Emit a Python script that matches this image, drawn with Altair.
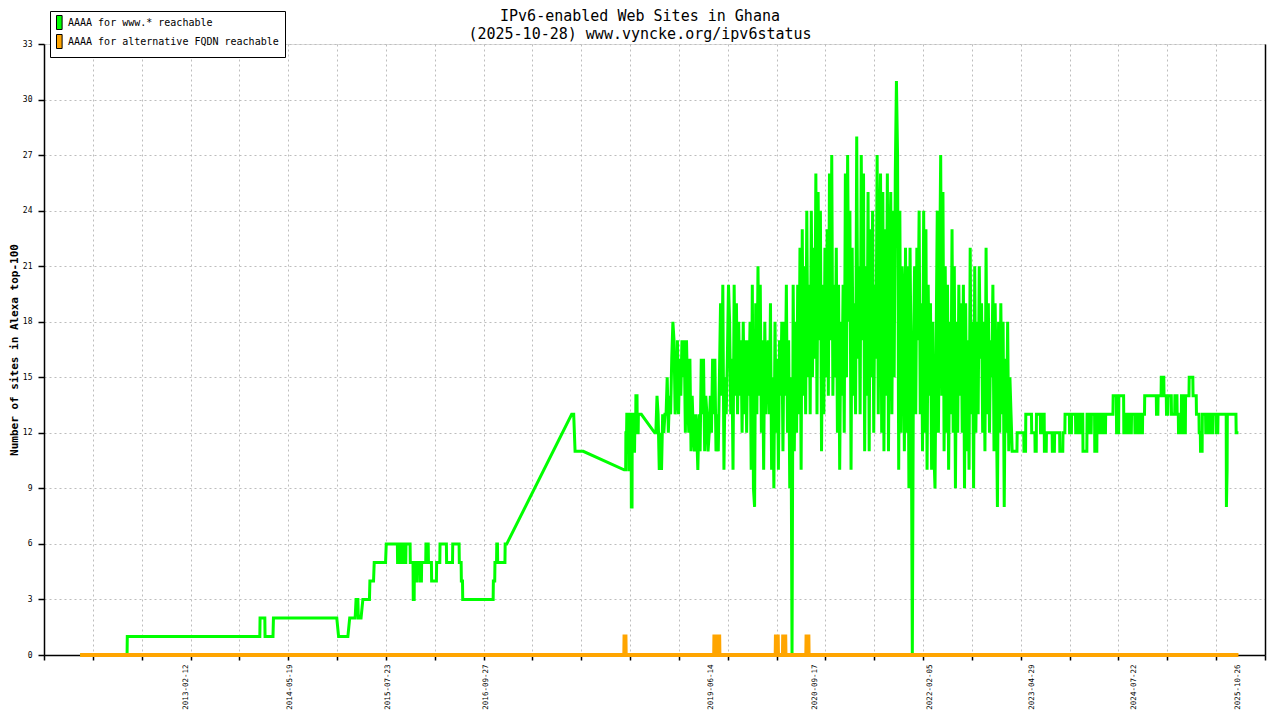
import altair as alt
import pandas as pd

FONT = "DejaVu Sans Mono"
GREEN_NAME = "AAAA for www.* reachable"
ORANGE_NAME = "AAAA for alternative FQDN reachable"
GREEN = "#00FF00"
ORANGE = "#FFA500"

title_lines = ["IPv6-enabled Web Sites in Ghana", "(2025-10-28) www.vyncke.org/ipv6status"]
y_title = "Number of sites in Alexa top-100"

# green series, early part (date, sites)
green_early_points = [
    ["2011-11-07", 0], ["2012-06-01", 0], ["2012-06-02", 1], ["2014-01-07", 1], ["2014-01-08", 2],
    ["2014-01-29", 2], ["2014-01-30", 1], ["2014-03-06", 1], ["2014-03-08", 2], ["2014-12-12", 2],
    ["2014-12-20", 1], ["2015-01-30", 1], ["2015-02-07", 2], ["2015-03-03", 2], ["2015-03-07", 3],
    ["2015-03-15", 3], ["2015-03-17", 2], ["2015-03-29", 2], ["2015-04-06", 3], ["2015-05-05", 3],
    ["2015-05-07", 4], ["2015-05-23", 4], ["2015-05-26", 5], ["2015-07-15", 5], ["2015-07-18", 6],
    ["2015-09-05", 6], ["2015-09-06", 5], ["2015-09-10", 5], ["2015-09-11", 6], ["2015-09-14", 6],
    ["2015-09-15", 5], ["2015-09-22", 5], ["2015-09-23", 6], ["2015-09-26", 6], ["2015-09-27", 5],
    ["2015-10-04", 5], ["2015-10-05", 6], ["2015-10-07", 6], ["2015-10-08", 5], ["2015-10-12", 5],
    ["2015-10-13", 6], ["2015-10-31", 6], ["2015-11-01", 5], ["2015-11-13", 5], ["2015-11-14", 3],
    ["2015-11-18", 3], ["2015-11-19", 5], ["2015-11-23", 5], ["2015-11-24", 4], ["2015-12-01", 4],
    ["2015-12-02", 5], ["2015-12-14", 5], ["2015-12-15", 4], ["2015-12-20", 4], ["2015-12-21", 5],
    ["2016-01-08", 5], ["2016-01-09", 6], ["2016-01-19", 6], ["2016-01-20", 5], ["2016-02-02", 5],
    ["2016-02-03", 4], ["2016-02-24", 4], ["2016-02-25", 5], ["2016-03-10", 5], ["2016-03-11", 6],
    ["2016-04-08", 6], ["2016-04-09", 5], ["2016-05-05", 5], ["2016-05-06", 6], ["2016-06-03", 6],
    ["2016-06-04", 5], ["2016-06-12", 5], ["2016-06-13", 4], ["2016-06-18", 4], ["2016-06-19", 3],
    ["2016-10-31", 3], ["2016-11-01", 4], ["2016-11-07", 4], ["2016-11-08", 5], ["2016-11-15", 5],
    ["2016-11-16", 6], ["2016-11-19", 6], ["2016-11-20", 5], ["2016-12-22", 5], ["2016-12-23", 6],
    ["2016-12-30", 6], ["2017-10-12", 13], ["2017-10-21", 13], ["2017-10-24", 12], ["2017-10-27", 11],
    ["2017-12-02", 11], ["2018-05-31", 10], ["2018-06-07", 10], ["2018-06-08", 12], ["2018-06-11", 12],
    ["2018-06-12", 13], ["2018-06-20", 13], ["2018-06-21", 10], ["2018-06-24", 10], ["2018-06-25", 13],
    ["2018-07-01", 13], ["2018-07-02", 8], ["2018-07-05", 8], ["2018-07-06", 13], ["2018-07-12", 13],
    ["2018-07-13", 11], ["2018-07-16", 11], ["2018-07-17", 12], ["2018-07-21", 12], ["2018-07-22", 14],
    ["2018-07-27", 14], ["2018-07-28", 12], ["2018-08-01", 12], ["2018-08-02", 13], ["2018-08-15", 13],
    ["2018-10-13", 12],
]

# green series, noisy middle part: one reading every 5 days from this date
green_noisy_start = "2018-10-18"
green_noisy_step_days = 5
green_noisy_values = [
    12, 14, 13, 10, 12, 10, 13, 12, 13,
    13, 15, 12, 14, 13, 16, 18, 17, 13,
    14, 17, 13, 16, 14, 17, 15, 17, 12,
    17, 14, 12, 16, 11, 14, 12, 11, 13,
    12, 10, 13, 11, 16, 13, 16, 11, 14,
    13, 11, 12, 14, 12, 16, 13, 16, 11,
    13, 11, 15, 19, 14, 20, 10, 15, 13,
    16, 20, 18, 13, 16, 10, 20, 14, 19,
    13, 18, 14, 17, 12, 18, 13, 17, 12,
    17, 14, 18, 10, 20, 9, 8, 19, 13,
    21, 14, 20, 12, 17, 10, 18, 13, 16,
    17, 13, 19, 10, 15, 9, 18, 12, 16,
    10, 17, 14, 18, 11, 18, 14, 20, 12,
    17, 9, 15, 0, 20, 11, 18, 12, 20,
    13, 22, 10, 23, 14, 21, 13, 24, 15,
    20, 13, 24, 15, 22, 16, 26, 13, 25,
    17, 24, 11, 20, 13, 22, 15, 23, 14,
    26, 17, 27, 14, 20, 15, 22, 12, 20,
    10, 18, 14, 20, 12, 26, 15, 27, 18,
    24, 10, 22, 14, 19, 13, 28, 16, 21,
    13, 27, 17, 26, 11, 21, 14, 25, 11,
    23, 15, 24, 12, 20, 16, 27, 13, 22,
    26, 12, 25, 11, 23, 14, 26, 11, 21,
    25, 13, 24, 15, 26, 31, 27, 10, 24,
    12, 21, 19, 11, 22, 12, 21, 9, 22,
    15, 0, 16, 21, 13, 22, 17, 24, 13,
    19, 11, 24, 12, 23, 10, 20, 14, 19,
    10, 18, 11, 9, 17, 24, 12, 20, 27,
    14, 25, 11, 21, 12, 20, 10, 18, 13,
    23, 12, 21, 9, 18, 12, 20, 14, 19,
    12, 20, 9, 19, 11, 17, 10, 22, 13,
    18, 9, 21, 12, 18, 13, 21, 16, 19,
    12, 18, 11, 22, 13, 19, 12, 17, 15,
    20, 11, 19, 14, 8, 18, 12, 19, 13,
    18, 8, 16, 12, 18, 11, 15, 13, 11,
]

# green series, late part
green_late_points = [
    ["2023-02-08", 11], ["2023-02-25", 11], ["2023-02-26", 12], ["2023-03-27", 12], ["2023-03-28", 11],
    ["2023-04-04", 11], ["2023-04-05", 13], ["2023-04-30", 13], ["2023-05-01", 12], ["2023-05-15", 12],
    ["2023-05-16", 11], ["2023-05-21", 11], ["2023-05-22", 13], ["2023-06-08", 13], ["2023-06-09", 12],
    ["2023-06-17", 12], ["2023-06-18", 13], ["2023-06-25", 13], ["2023-06-26", 11], ["2023-07-04", 11],
    ["2023-07-05", 12], ["2023-07-30", 12], ["2023-07-31", 11], ["2023-08-09", 11], ["2023-08-10", 12],
    ["2023-09-01", 12], ["2023-09-02", 11], ["2023-09-15", 11], ["2023-09-16", 12], ["2023-09-24", 12],
    ["2023-09-25", 13], ["2023-10-14", 13], ["2023-10-15", 12], ["2023-10-23", 12], ["2023-10-24", 13],
    ["2023-11-10", 13], ["2023-11-11", 12], ["2023-11-17", 12], ["2023-11-18", 13], ["2023-11-27", 13],
    ["2023-11-28", 12], ["2023-12-05", 12], ["2023-12-06", 13], ["2023-12-12", 13], ["2023-12-13", 11],
    ["2023-12-30", 11], ["2023-12-31", 13], ["2024-01-11", 13], ["2024-01-12", 12], ["2024-01-18", 12],
    ["2024-01-19", 13], ["2024-02-02", 13], ["2024-02-03", 11], ["2024-02-12", 11], ["2024-02-13", 13],
    ["2024-02-24", 13], ["2024-02-25", 12], ["2024-03-04", 12], ["2024-03-05", 13], ["2024-03-13", 13],
    ["2024-03-14", 12], ["2024-03-21", 12], ["2024-03-22", 13], ["2024-04-23", 13], ["2024-04-24", 14],
    ["2024-05-08", 14], ["2024-05-09", 12], ["2024-05-18", 12], ["2024-05-19", 14], ["2024-06-09", 14],
    ["2024-06-10", 12], ["2024-06-21", 12], ["2024-06-22", 13], ["2024-07-03", 13], ["2024-07-04", 12],
    ["2024-07-13", 12], ["2024-07-14", 13], ["2024-07-28", 13], ["2024-07-29", 12], ["2024-08-07", 12],
    ["2024-08-08", 13], ["2024-08-19", 13], ["2024-08-20", 12], ["2024-08-31", 12], ["2024-09-01", 13],
    ["2024-09-09", 13], ["2024-09-10", 14], ["2024-10-31", 14], ["2024-11-01", 13], ["2024-11-07", 13],
    ["2024-11-08", 14], ["2024-11-21", 14], ["2024-11-22", 15], ["2024-12-03", 15], ["2024-12-04", 14],
    ["2024-12-14", 14], ["2024-12-15", 13], ["2024-12-21", 13], ["2024-12-22", 14], ["2025-01-05", 14],
    ["2025-01-06", 13], ["2025-01-20", 13], ["2025-01-21", 14], ["2025-01-30", 14], ["2025-01-31", 13],
    ["2025-02-05", 13], ["2025-02-06", 12], ["2025-02-18", 12], ["2025-02-19", 14], ["2025-02-25", 14],
    ["2025-02-26", 12], ["2025-03-08", 12], ["2025-03-09", 14], ["2025-03-24", 14], ["2025-03-25", 15],
    ["2025-04-10", 15], ["2025-04-11", 14], ["2025-04-25", 14], ["2025-04-26", 13], ["2025-05-07", 13],
    ["2025-05-08", 12], ["2025-05-13", 12], ["2025-05-14", 11], ["2025-05-21", 11], ["2025-05-22", 13],
    ["2025-06-05", 13], ["2025-06-06", 12], ["2025-06-15", 12], ["2025-06-16", 13], ["2025-06-26", 13],
    ["2025-06-27", 12], ["2025-07-07", 12], ["2025-07-08", 13], ["2025-07-22", 13], ["2025-07-23", 12],
    ["2025-07-29", 12], ["2025-07-30", 13], ["2025-09-04", 13], ["2025-09-05", 8], ["2025-09-08", 10],
    ["2025-09-09", 13], ["2025-10-17", 13], ["2025-10-18", 12], ["2025-10-28", 12],
]

# orange series
orange_points = [
    ["2011-11-07", 0], ["2018-06-01", 0], ["2018-06-02", 1], ["2018-06-06", 1], ["2018-06-07", 0],
    ["2019-07-02", 0], ["2019-07-03", 1], ["2019-07-10", 1], ["2019-07-11", 0], ["2019-07-13", 0],
    ["2019-07-14", 1], ["2019-07-24", 1], ["2019-07-25", 0], ["2020-03-29", 0], ["2020-03-30", 1],
    ["2020-04-07", 1], ["2020-04-08", 0], ["2020-04-30", 0], ["2020-05-01", 1], ["2020-05-10", 1],
    ["2020-05-11", 0], ["2020-08-11", 0], ["2020-08-12", 1], ["2020-08-20", 1], ["2020-08-21", 0],
    ["2025-10-28", 0],
]

x_label_dates = ["2013-02-12", "2014-05-19", "2015-07-23", "2016-09-27", "2019-06-14",
                 "2020-09-17", "2022-02-05", "2023-04-29", "2024-07-22", "2025-10-26"]
x_domain_dates = ["2011-06-01", "2026-02-22"]
y_ticks = [0, 3, 6, 9, 12, 15, 18, 21, 24, 27, 30, 33]

# ---- build tables
noisy_dates = pd.date_range(green_noisy_start, periods=len(green_noisy_values),
                            freq=f"{green_noisy_step_days}D").strftime("%Y-%m-%d").tolist()
green_rows = ([{"date": d, "value": v} for d, v in green_early_points]
              + [{"date": d, "value": v} for d, v in zip(noisy_dates, green_noisy_values)]
              + [{"date": d, "value": v} for d, v in green_late_points])
df_green = pd.DataFrame(green_rows)
df_orange = pd.DataFrame([{"date": d, "value": v} for d, v in orange_points])
df_legend = pd.DataFrame({"date": ["2010-01-01", "2010-01-01"], "value": [0, 0],
                          "series": [GREEN_NAME, ORANGE_NAME]})


def ms(s):
    return int(pd.Timestamp(s, tz="UTC").value // 10**6)


x_domain = [ms(d) for d in x_domain_dates]
n_intervals = 25
tick_values = [x_domain[0] + (x_domain[1] - x_domain[0]) * k / n_intervals for k in range(n_intervals + 1)]
label_values = [ms(d) for d in x_label_dates]

W, H = 1221, 611
xscale = alt.Scale(type="utc", domain=x_domain, nice=False)
yscale = alt.Scale(domain=[0, 33], nice=False, zero=True)
GRID = "#bdbdbd"
# tall narrow swatch sitting at the left of its legend cell
SYMBOL = "M-1,-1.4H0.12V1.4H-1Z"

green = alt.Chart(df_green).mark_line(color=GREEN, strokeWidth=3).encode(
    x=alt.X("date:T", scale=xscale, axis=alt.Axis(
        orient="bottom", values=tick_values, labels=False, ticks=True, tickSize=5,
        tickWidth=1.5, tickColor="black", grid=True, gridColor=GRID, gridDash=[2, 3],
        gridWidth=1, domain=True, domainColor="black", domainWidth=1.5, title=None)),
    y=alt.Y("value:Q", scale=yscale, axis=alt.Axis(
        orient="left", values=y_ticks, grid=True, gridColor=GRID, gridDash=[2, 3], gridWidth=1,
        tickSize=6, tickWidth=1.5, tickColor="black", domainColor="black", domainWidth=1.5,
        labelFont=FONT, labelFontSize=8, labelColor="black", labelPadding=6,
        title=y_title, titleFont=FONT, titleFontSize=11, titleFontWeight="bold",
        titleColor="black", titleX=-30, titleY=H / 2, titleAngle=270,
        titleAlign="center", titleBaseline="middle")),
)

orange = alt.Chart(df_orange).mark_line(color=ORANGE, strokeWidth=4).encode(
    x=alt.X("date:T", scale=xscale, axis=alt.Axis(
        orient="bottom", values=label_values,
        labelExpr="utcFormat(datum.value, '%Y-%m-%d')", labelAngle=270,
        labelFont=FONT, labelFontSize=7.5, labelColor="black", labelPadding=9,
        ticks=False, tickSize=0, grid=False, domain=False, labelFlush=False,
        labelOverlap=False, labelBound=False, title=None)),
    y=alt.Y("value:Q", scale=yscale, axis=alt.Axis(
        orient="right", labels=False, ticks=False, grid=False, domain=True,
        domainColor="black", domainWidth=1.5, title=None)),
)

legend_layer = alt.Chart(df_legend).mark_point(
    filled=True, shape=SYMBOL, size=100, stroke="black",
    strokeWidth=1, opacity=1, clip=True).encode(
    x=alt.X("date:T", scale=xscale, axis=None),
    y=alt.Y("value:Q", scale=yscale, axis=None),
    fill=alt.Fill("series:N", scale=alt.Scale(domain=[GREEN_NAME, ORANGE_NAME], range=[GREEN, ORANGE]),
                  legend=alt.Legend(
                      orient="none", legendX=6, legendY=-33, title=None,
                      strokeColor="black", fillColor="white", padding=6, rowPadding=0,
                      symbolType=SYMBOL, symbolSize=100,
                      symbolStrokeColor="black", symbolStrokeWidth=1, symbolOpacity=1,
                      labelOffset=1, labelFont=FONT, labelFontSize=10,
                      labelColor="black", labelLimit=500, cornerRadius=0)),
)

chart = alt.layer(green, orange, legend_layer).resolve_axis(
    x="independent", y="independent"
).properties(
    width=W, height=H,
    autosize=alt.AutoSizeParams(type="none"),
    padding={"left": 36, "top": 36, "right": 7, "bottom": 57},
    background="white",
    title=alt.TitleParams(title_lines, font=FONT, fontSize=15, fontWeight="normal",
                          color="black", anchor="middle", frame="group", dx=-14.5,
                          dy=37, lineHeight=18, offset=6),
).configure_view(stroke=None).configure(font=FONT)

chart.save("out.html", embed_options={"renderer": "svg", "actions": False})
